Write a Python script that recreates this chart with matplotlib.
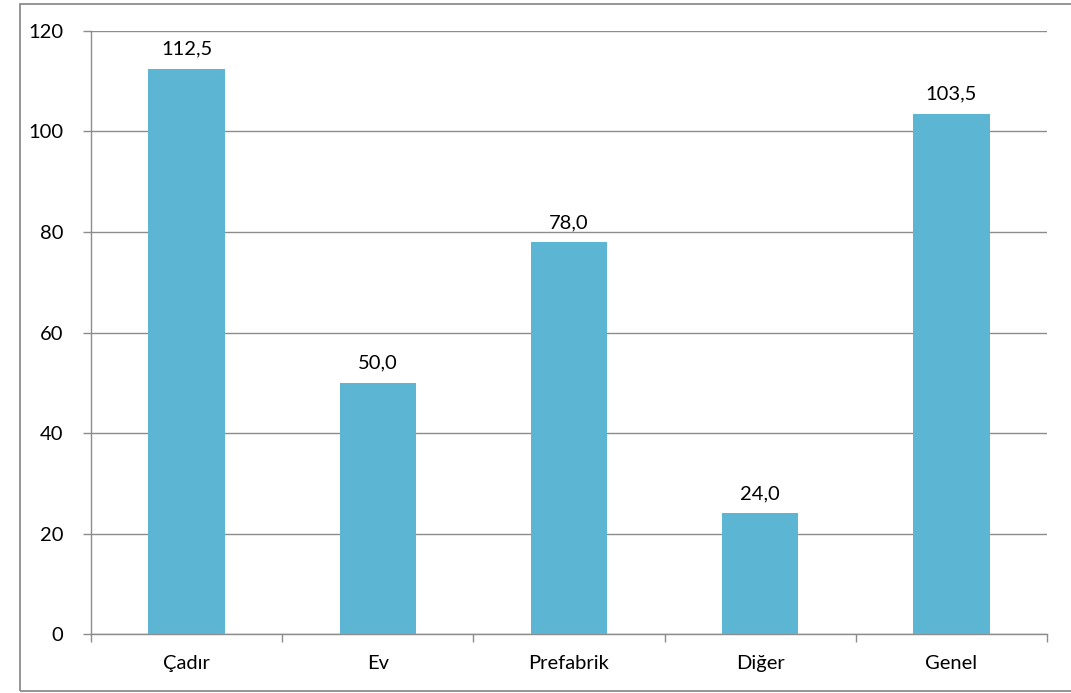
import numpy as np
import matplotlib.pyplot as plt
from matplotlib.patches import Rectangle

categories = ["Çadır", "Ev", "Prefabrik", "Diğer", "Genel"]
values = [112.5, 50.0, 78.0, 24.0, 103.5]
yticks = [0, 20, 40, 60, 80, 100, 120]

plt.rcParams['font.family'] = ['Lato', 'DejaVu Sans']
fsize = 14.5

fig = plt.figure(figsize=(10.71, 6.93), dpi=100)
ax = fig.add_axes([0.085, 0.0851, 0.8926, 0.8702])

# outer chart border
fig.patches.append(Rectangle((20 / 1071, 2 / 693), 1.1, 687 / 693, transform=fig.transFigure,
                             fill=False, edgecolor='#8c8c8c', linewidth=1.3))

x = np.arange(len(categories))
bars = ax.bar(x, values, width=0.4, color='#5DB5D4', zorder=3)

for xi, v in zip(x, values):
    ax.annotate(f"{v:.1f}".replace('.', ','), (xi, v), xytext=(0, 8),
                textcoords='offset points', ha='center', va='bottom', fontsize=fsize)

ax.set_xlim(-0.5, len(categories) - 0.5)
ax.set_ylim(0, 120)
ax.set_yticks(yticks)
ax.set_yticklabels([str(t) for t in yticks])
ax.yaxis.grid(True, color='#8c8c8c', linewidth=1, zorder=0)

# category labels between boundary ticks
ax.set_xticks(np.arange(len(categories) + 1) - 0.5)
ax.set_xticklabels([])
ax.set_xticks(x, minor=True)
ax.set_xticklabels(categories, minor=True)
ax.tick_params(axis='x', which='minor', length=0, pad=15, labelsize=fsize)
ax.tick_params(axis='x', which='major', length=6, color='#8c8c8c', width=1)
ax.tick_params(axis='y', length=6, color='#8c8c8c', width=1, pad=14, labelsize=fsize)

for s in ['top', 'right']:
    ax.spines[s].set_visible(False)
for s in ['left', 'bottom']:
    ax.spines[s].set_color('#8c8c8c')
    ax.spines[s].set_linewidth(1)

fig.savefig("out.png", dpi=100)
